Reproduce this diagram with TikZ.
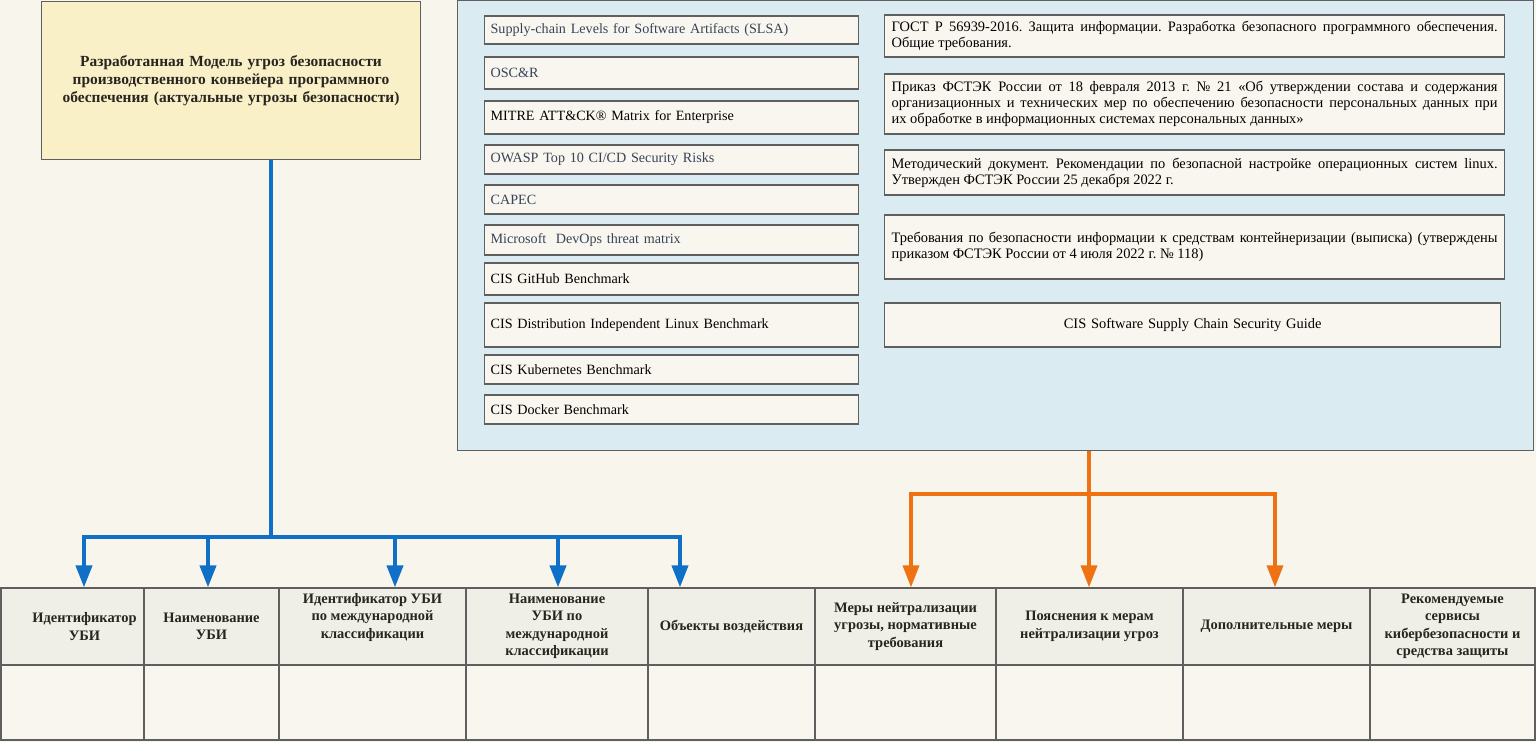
\documentclass[tikz,border=0pt]{standalone}
\usepackage{fontspec}
\setmainfont{Liberation Serif}
\frenchspacing
\usetikzlibrary{arrows.meta,positioning,calc}

\definecolor{pagecream}{RGB}{248,246,236}
\definecolor{modelyellow}{RGB}{250,240,200}
\definecolor{panelblue}{RGB}{218,236,242}
\definecolor{boxcream}{RGB}{248,246,238}
\definecolor{headgray}{RGB}{240,239,231}
\definecolor{framegray}{RGB}{95,95,95}
\definecolor{dimtext}{RGB}{55,68,88}
\definecolor{inkdark}{RGB}{40,36,32}
\definecolor{ubiblue}{RGB}{16,112,200}
\definecolor{measorange}{RGB}{238,114,20}

\tikzset{
  refbox/.style={draw=framegray,line width=1.2bp,fill=boxcream,anchor=west,inner xsep=6bp,inner ysep=0pt,
    text width=362bp,align=left,font=\fontsize{14.2}{16}\selectfont},
  docbox/.style={draw=framegray,line width=1.2bp,fill=boxcream,anchor=west,inner xsep=7bp,inner ysep=0pt,
    text width=606bp,align=justify,font=\fontsize{14.5}{16}\selectfont},
  headcell/.style={draw=framegray,line width=1.2bp,fill=headgray,inner sep=0pt,minimum height=77bp},
  headtext/.style={inner sep=0pt,align=center,text=inkdark,font=\bfseries\fontsize{14.5}{17.5}\selectfont},
  bodycell/.style={draw=framegray,line width=1.2bp,fill=boxcream,inner sep=0pt,minimum height=75bp},
  ubiline/.style={ubiblue,line width=4bp},
  ubiarrow/.style={ubiline,-{Triangle[width=16bp,length=22bp]}},
  measline/.style={measorange,line width=3.5bp},
  measarrow/.style={measline,-{Triangle[width=16bp,length=22bp]}},
}

\begin{document}
\begin{tikzpicture}[x=1bp,y=-1bp]
\useasboundingbox (0,0) rectangle (1536,742);
\fill[pagecream] (0,0) rectangle (1536,742);

% model of threats
\node[draw=framegray,line width=1bp,fill=modelyellow,minimum width=378bp,minimum height=157bp,
  text width=366bp,align=center,text=inkdark,font=\bfseries\fontsize{15.5}{18}\selectfont]
  (model) at (231,80.5) {Разработанная Модель угроз безопасности\\ производственного конвейера программного\\ обеспечения (актуальные угрозы безопасности)};

% sources panel
\node[draw=framegray,line width=1bp,fill=panelblue,minimum width=1076bp,minimum height=449bp,inner sep=0pt]
  (panel) at (995,225.5) {};

\node[refbox,minimum height=28bp,text=dimtext] (slsa) at (484,30) {Supply-chain Levels for Software Artifacts (SLSA)};
\node[refbox,minimum height=32bp,text=dimtext] (oscr) at (484,73) {OSC\&R};
\node[refbox,minimum height=33bp] (mitre) at (484,117.5) {MITRE ATT\&CK® Matrix for Enterprise};
\node[refbox,minimum height=29bp,text=dimtext] (owasp) at (484,159.5) {OWASP Top 10 CI/CD Security Risks};
\node[refbox,minimum height=29bp,text=dimtext] (capec) at (484,199.5) {CAPEC};
\node[refbox,minimum height=30bp,text=dimtext] (msdev) at (484,240) {Microsoft\ \ DevOps threat matrix};
\node[refbox,minimum height=32bp] (cisgh) at (484,279) {CIS GitHub Benchmark};
\node[refbox,minimum height=44bp] (cisdil) at (484,325) {CIS Distribution Independent Linux Benchmark};
\node[refbox,minimum height=29bp] (ciskub) at (484,369.5) {CIS Kubernetes Benchmark};
\node[refbox,minimum height=29bp] (cisdock) at (484,409.5) {CIS Docker Benchmark};

\node[docbox,minimum height=42bp] (gost) at (884,36) {ГОСТ Р 56939-2016. Защита информации. Разработка безопасного программного обеспечения.\linebreak Общие требования.};
\node[docbox,minimum height=60bp] (fstec21) at (884,104) {Приказ ФСТЭК России от 18 февраля 2013 г. № 21 «Об утверждении состава и содержания\linebreak организационных и технических мер по обеспечению безопасности персональных данных при\linebreak их обработке в информационных системах персональных данных»};
\node[docbox,minimum height=45bp] (linuxdoc) at (884,172.5) {Методический документ. Рекомендации по безопасной настройке операционных систем linux.\linebreak Утвержден ФСТЭК России 25 декабря 2022 г.};
\node[docbox,minimum height=64bp] (fstec118) at (884,247) {Требования по безопасности информации к средствам контейнеризации (выписка) (утверждены\linebreak приказом ФСТЭК России от 4 июля 2022 г. № 118)};
\node[docbox,minimum height=44bp,text width=602bp,align=center] (cisssc) at (884,325) {CIS Software Supply Chain Security Guide};

% table of threats
\foreach \n/\xa/\xb/\dx/\dy/\txt in {1/1/144/12/0/{Идентификатор\\УБИ},
    2/144/279/0/0/{Наименование\\УБИ},
    3/279/466/0/9/{Идентификатор УБИ\\по международной\\классификации},
    4/466/648/0/0/{Наименование\\УБИ по\\международной\\классификации},
    5/648/815/0/0/{Объекты воздействия},
    6/815/996/0/0/{Меры нейтрализации\\угрозы, нормативные\\требования},
    7/996/1183/0/0/{Пояснения к мерам\\нейтрализации угроз},
    8/1183/1370/0/0/{Дополнительные меры},
    9/1370/1535/0/0/{Рекомендуемые\\сервисы\\кибербезопасности и\\средства защиты}}{
  \node[headcell,minimum width={(\xb-\xa)*1bp}] (h\n) at ({(\xa+\xb)/2},626.5) {};
  \node[headtext] (t\n) at ([shift={(\dx bp,\dy bp)}]h\n.center) {\txt};
  \node[bodycell,minimum width={(\xb-\xa)*1bp}] (b\n) at ({(\xa+\xb)/2},702.5) {};
}

% connectors
\coordinate (bj) at (271,537);
\draw[ubiline] (bj |- model.south) -- (bj);
\foreach \c/\dx in {1/11.5,2/-3.5,3/22.5,4/1,5/-51.5}
  \draw[ubiarrow] (bj) -| ([xshift=\dx bp]h\c.north);

\coordinate (oj) at (1089,494);
\draw[measline] (oj |- panel.south) -- (oj);
\foreach \c/\dx in {6/5.5,7/-0.5,8/-1.5}
  \draw[measarrow] (oj) -| ([xshift=\dx bp]h\c.north);
\end{tikzpicture}
\end{document}
